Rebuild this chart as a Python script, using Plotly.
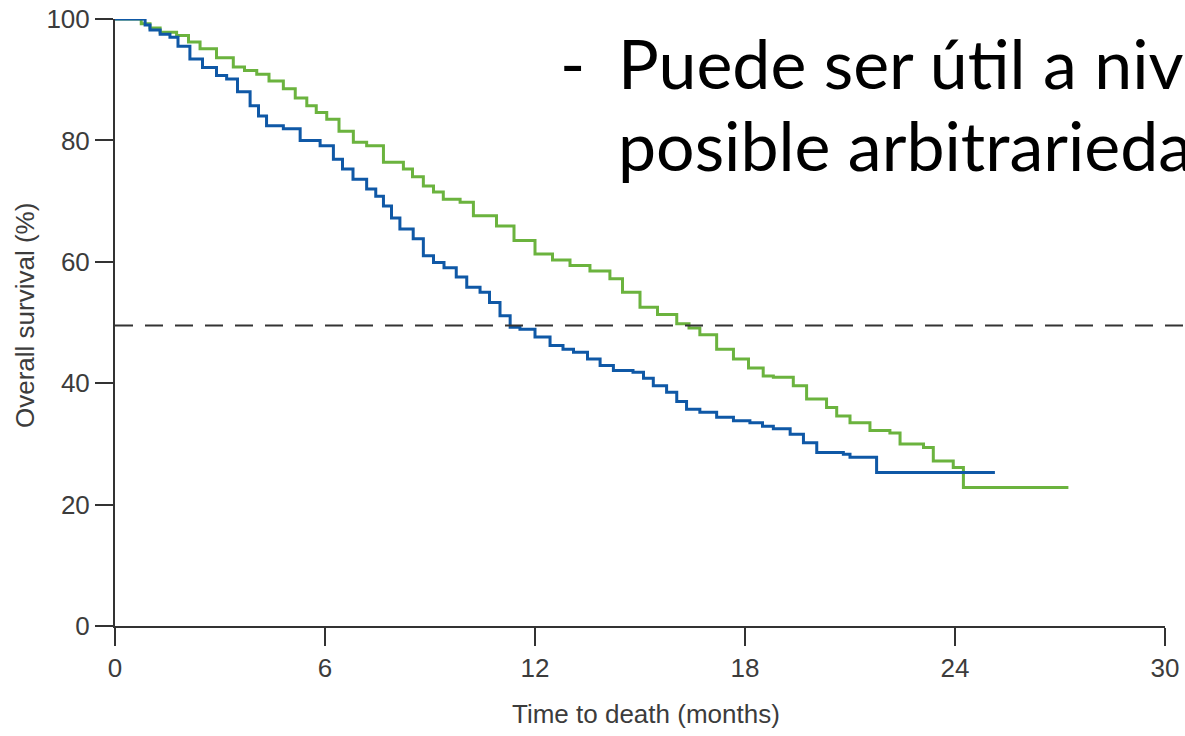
import plotly.graph_objects as go

# Kaplan-Meier step curves: time (months) and overall survival (%)
blue_t = [0, 0.86, 1.0, 1.29, 1.57, 1.8, 2.14, 2.5, 2.9, 3.19, 3.5, 3.86, 4.1, 4.33,
          4.81, 5.29, 5.86, 6.24, 6.5, 6.8, 7.19, 7.45, 7.67, 7.9, 8.14, 8.52, 8.81,
          9.1, 9.4, 9.75, 10.05, 10.43, 10.7, 11.0, 11.29, 11.57, 12.0, 12.43, 12.8,
          13.1, 13.5, 13.86, 14.24, 14.8, 15.1, 15.38, 15.76, 16.05, 16.33, 16.71,
          17.19, 17.67, 18.14, 18.5, 18.81, 19.29, 19.67, 20.05, 20.81, 21.0, 21.76,
          25.14]
blue_s = [100, 99, 98.2, 97.5, 97.0, 95.5, 93.4, 92.0, 90.7, 90.1, 88, 85.7, 84, 82.4,
          81.9, 80.0, 79.1, 76.9, 75.3, 73.6, 72.0, 70.8, 69.2, 67.2, 65.4, 63.8, 61.0,
          59.9, 59.0, 57.5, 55.8, 55.0, 53.3, 51.1, 49.2, 48.9, 47.6, 46.2, 45.6,
          45.1, 44.0, 42.9, 42.1, 41.8, 40.8, 39.6, 38.5, 37.0, 35.7, 35.2,
          34.4, 33.8, 33.5, 32.9, 32.5, 31.6, 30.2, 28.6, 28.3, 27.8, 25.3,
          25.3]

green_t = [0, 0.75, 1.0, 1.29, 1.76, 2.1, 2.43, 2.9, 3.38, 3.7, 4.05, 4.4, 4.81, 5.15,
           5.48, 5.75, 6.05, 6.4, 6.81, 7.19, 7.67, 8.24, 8.5, 8.81, 9.1, 9.38, 9.86,
           10.24, 10.9, 11.4, 12.0, 12.5, 13.0, 13.57, 14.14, 14.5, 15.0, 15.5, 16.05,
           16.4, 16.71, 17.19, 17.67, 18.1, 18.52, 18.81, 19.38, 19.76, 20.33, 20.62,
           21.0, 21.57, 22.14, 22.43, 23.1, 23.38, 23.95, 24.24, 27.24]
green_s = [100, 99.2, 98.5, 97.8, 97.3, 96.2, 95.1, 93.6, 92.1, 91.5, 90.9, 89.8, 88.5, 87.0,
           85.7, 84.6, 83.5, 81.5, 79.7, 79.1, 76.4, 75.3, 74.0, 72.5, 71.5, 70.3, 69.8,
           67.6, 65.9, 63.5, 61.3, 60.3, 59.4, 58.5, 57.2, 55.0, 52.5, 51.3, 49.8,
           49.1, 48.0, 45.6, 44.0, 42.5, 41.2, 41.0, 39.6, 37.4, 36.0, 34.6,
           33.5, 32.2, 31.8, 30.0, 29.4, 27.2, 26.1, 22.8, 22.8]

x_ticks = [0, 6, 12, 18, 24, 30]
y_ticks = [0, 20, 40, 60, 80, 100]
ref_level = 49.5  # dashed reference level (%)

x_title = "Time to death (months)"
y_title = "Overall survival (%)"
bullet_lines = ["Puede ser útil a nivel", "posible arbitrariedad"]

BLUE = "#0f58a6"
GREEN = "#6bb33e"
AXIS = "#333333"
LABEL = "#3c3c3c"
CHART_FONT = "Liberation Sans, Arial, sans-serif"
SLIDE_FONT = "Lato, Open Sans, sans-serif"

# plot area in pixels: left 115, right 1165, top 19, bottom 626
L, R, T, B = 115, 1165, 19, 626


def px(xp):
    return (xp - L) / (R - L)


def py(yp):
    return (B - yp) / (B - T)


fig = go.Figure()
fig.add_trace(go.Scatter(x=green_t, y=green_s, mode="lines", line_shape="hv",
                         line=dict(color=GREEN, width=3), showlegend=False))
fig.add_trace(go.Scatter(x=blue_t, y=blue_s, mode="lines", line_shape="hv",
                         line=dict(color=BLUE, width=3), showlegend=False))

fig.add_shape(type="line", xref="paper", yref="y", x0=0, x1=1.1, y0=ref_level, y1=ref_level,
              line=dict(color=AXIS, width=2, dash="18px,12px"))

axis_common = dict(showgrid=False, zeroline=False, showline=True, linecolor=AXIS, linewidth=2,
                   ticks="outside", ticklen=18, tickwidth=2, tickcolor=AXIS, automargin=False,
                   tickfont=dict(family=CHART_FONT, size=26, color=LABEL))
fig.update_xaxes(range=[0, 30], tickvals=x_ticks, **axis_common)
fig.update_yaxes(range=[0, 100], tickvals=y_ticks, **axis_common)

SLIDE_SIZE = 68
annotations = [
    dict(text=x_title, xref="paper", yref="paper", x=px(646), y=py(714),
         xanchor="center", yanchor="middle", showarrow=False,
         font=dict(family=CHART_FONT, size=26, color=LABEL)),
    dict(text=y_title, xref="paper", yref="paper", x=px(25), y=py(316), textangle=-90,
         xanchor="center", yanchor="middle", showarrow=False,
         font=dict(family=CHART_FONT, size=26, color=LABEL)),
    dict(text="-", xref="paper", yref="paper", x=px(558), y=py(63),
         xanchor="left", yanchor="middle", showarrow=False,
         font=dict(family=SLIDE_FONT, size=SLIDE_SIZE, color="black")),
    dict(text=bullet_lines[0], xref="paper", yref="paper", x=px(616), y=py(63),
         xanchor="left", yanchor="middle", showarrow=False,
         font=dict(family=SLIDE_FONT, size=SLIDE_SIZE, color="black")),
    dict(text=bullet_lines[1], xref="paper", yref="paper", x=px(616), y=py(144),
         xanchor="left", yanchor="middle", showarrow=False,
         font=dict(family=SLIDE_FONT, size=SLIDE_SIZE, color="black")),
]

fig.update_layout(width=1185, height=736, margin=dict(l=L, r=1185 - R, t=T, b=736 - B),
                  paper_bgcolor="white", plot_bgcolor="white",
                  annotations=annotations)

fig.write_html("out.html")
